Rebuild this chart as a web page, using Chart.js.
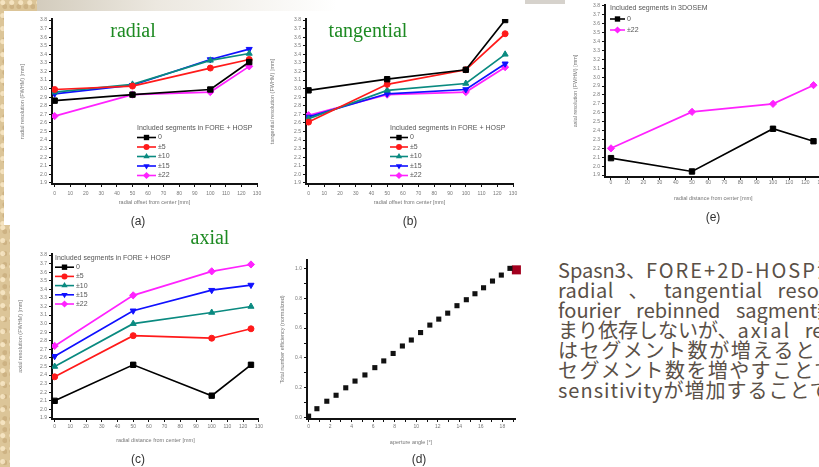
<!DOCTYPE html>
<html>
<head>
<meta charset="utf-8">
<script src="https://cdn.jsdelivr.net/npm/chart.js@4.4.0/dist/chart.umd.min.js"></script>
<style>
html, body { margin: 0; padding: 0; }
body { width: 819px; height: 467px; overflow: hidden; position: relative; background: #fff; font-family: "Liberation Sans", Arial, sans-serif; }
canvas { position: absolute; }
.beige { position: absolute; background-color: #dcc598;
  background-image: radial-gradient(circle at 30% 20%, rgba(255,240,210,.7) 0 2px, transparent 3px),
                    radial-gradient(circle at 70% 60%, rgba(190,160,110,.5) 0 2px, transparent 3px);
  background-size: 9px 13px, 7px 11px; }
.topbar { position: absolute; left: 37px; top: 0; width: 300px; height: 11px; background: linear-gradient(to right, #d3ccbd, #ece8e0 40%, #fff); }
.green { position: absolute; font-family: "Liberation Serif", "Times New Roman", serif; font-size: 20px; color: #1d8a22; transform: translate(-50%, -50%); white-space: nowrap; }
.sub { position: absolute; font-size: 12px; color: #333; transform: translate(-50%, -50%); }
.para { position: absolute; left: 558px; top: 260px; font-family: "Noto Sans CJK JP", "Noto Sans", sans-serif; font-size: 20px; line-height: 20px; color: #5a5047; }
.para div { white-space: nowrap; height: 20px; }
.wide { letter-spacing: 2px; }
</style>
</head>
<body>
<div class="beige" style="left:0;top:0;width:4px;height:225px"></div>
<div class="beige" style="left:0;top:0;width:37px;height:11px"></div>
<div class="beige" style="left:0;top:225px;width:10px;height:242px"></div>
<div class="topbar"></div>
<div style="position:absolute;left:525px;top:0;width:40px;height:4px;background:#d6d2cc"></div>

<canvas id="chartA" width="270" height="215" style="left:0;top:0"></canvas>
<canvas id="chartB" width="260" height="215" style="left:265px;top:0"></canvas>
<canvas id="chartC" width="265" height="242" style="left:0;top:225px"></canvas>
<canvas id="chartD" width="260" height="242" style="left:265px;top:225px"></canvas>
<canvas id="chartE" width="305" height="225" style="left:525px;top:0"></canvas>

<div class="green" style="left:133px;top:30px">radial</div>
<div class="green" style="left:368px;top:30px">tangential</div>
<div class="green" style="left:210px;top:237px">axial</div>

<div class="sub" style="left:138px;top:221px">(a)</div>
<div class="sub" style="left:410px;top:221px">(b)</div>
<div class="sub" style="left:138px;top:459px">(c)</div>
<div class="sub" style="left:419px;top:459px">(d)</div>
<div class="sub" style="left:713px;top:217px">(e)</div>

<div class="para">
  <div>Spasn3、<span class="wide">FORE+2D-HOSP</span>法</div>
  <div style="word-spacing:10px;letter-spacing:0.4px">radial 、 tangential resolution</div>
  <div style="word-spacing:11px">fourier rebinned sagment数</div>
  <div style="word-spacing:9px">まり依存しないが、<span class="wide">axial</span> resolution</div>
  <div style="letter-spacing:1.6px">はセグメント数が増えると</div>
  <div style="letter-spacing:1.4px">セグメント数を増やすことで</div>
  <div style="letter-spacing:1px">sensitivityが増加することで</div>
</div>

<script>
// 横軸: 中心からの距離 [mm]
const offsets = [0, 50, 100, 125];
const segLabels = ['0', '±5', '±10', '±15', '±22'];

// (a) radial resolution
const radial0 = [2.86, 2.93, 2.99, 3.31];
const radial5 = [2.99, 3.03, 3.24, 3.34];
const radial10 = [2.96, 3.05, 3.33, 3.41];
const radial15 = [2.94, 3.04, 3.34, 3.46];
const radial22 = [2.68, 2.93, 2.96, 3.26];

// (b) tangential resolution
const tang0 = [2.98, 3.11, 3.22, 3.80];
const tang5 = [2.61, 3.05, 3.22, 3.64];
const tang10 = [2.65, 2.98, 3.06, 3.40];
const tang15 = [2.67, 2.94, 2.99, 3.29];
const tang22 = [2.69, 2.93, 2.96, 3.25];

// (c) axial resolution
const axial0 = [2.10, 2.52, 2.16, 2.52];
const axial5 = [2.38, 2.86, 2.83, 2.94];
const axial10 = [2.50, 3.00, 3.13, 3.20];
const axial15 = [2.62, 3.15, 3.39, 3.45];
const axial22 = [2.74, 3.33, 3.61, 3.69];

// (d) total number efficiency vs aperture angle
const apertureAngle = [0, 0.77, 1.69, 2.55, 3.45, 4.31, 5.23, 6.15, 6.98, 7.85, 8.71, 9.54, 10.4, 11.26, 12.09, 12.92, 13.78, 14.65, 15.45, 16.25, 17.08, 17.9, 18.7];
const efficiency = [0.01, 0.06, 0.11, 0.15, 0.20, 0.245, 0.286, 0.335, 0.38, 0.43, 0.48, 0.52, 0.57, 0.62, 0.66, 0.70, 0.75, 0.79, 0.83, 0.87, 0.915, 0.955, 1.0];
const markedAngle = [19.3];
const markedEff = [0.99];

// (e) 3DOSEM axial resolution
const osemLabels = ['0', '±22'];
const osem0 = [2.09, 1.94, 2.42, 2.28];
const osem22 = [2.20, 2.61, 2.70, 2.91];

// 目盛り
const resTicks = [1.9, 2.0, 2.1, 2.2, 2.3, 2.4, 2.5, 2.6, 2.7, 2.8, 2.9, 3.0, 3.1, 3.2, 3.3, 3.4, 3.5, 3.6, 3.7, 3.8];
const offsetTicks = [0, 10, 20, 30, 40, 50, 60, 70, 80, 90, 100, 110, 120, 130];
const effTicks = [0, 0.1, 0.2, 0.3, 0.4, 0.5, 0.6, 0.7, 0.8, 0.9, 1.0];
const angleTicks = [0, 1, 2, 3, 4, 5, 6, 7, 8, 9, 10, 11, 12, 13, 14, 15, 16, 17, 18, 19];

const FONT = '"Liberation Sans", Arial, sans-serif';

// 系列のスタイル (Origin のデフォルト順)
const estilos = [
  { color: '#000000', pointStyle: 'rect', pointRadius: 3.8, rotation: 0 },
  { color: '#ff1a1a', pointStyle: 'circle', pointRadius: 3, rotation: 0 },
  { color: '#0a8a80', pointStyle: 'triangle', pointRadius: 3.5, rotation: 0 },
  { color: '#1010ff', pointStyle: 'triangle', pointRadius: 3.5, rotation: 180 },
  { color: '#ff22ff', pointStyle: 'rectRot', pointRadius: 3.6, rotation: 0 }
];

function toPoints(xs, ys) {
  return xs.map((x, i) => ({ x: x, y: ys[i] }));
}

function serie(label, ys, st) {
  return {
    label: label,
    data: toPoints(offsets, ys),
    showLine: true,
    borderColor: st.color,
    backgroundColor: st.color,
    pointBackgroundColor: st.color,
    pointBorderColor: st.color,
    borderWidth: 1.7,
    pointStyle: st.pointStyle,
    pointRadius: st.pointRadius,
    pointRotation: st.rotation,
    pointBorderWidth: 1
  };
}

function drawMarker(ctx, style, r, rot, x, y) {
  ctx.save();
  ctx.translate(x, y);
  ctx.rotate(rot * Math.PI / 180);
  ctx.beginPath();
  if (style === 'circle') {
    ctx.arc(0, 0, r, 0, Math.PI * 2);
  } else if (style === 'rect') {
    const s = r / Math.SQRT2;
    ctx.rect(-s, -s, 2 * s, 2 * s);
  } else if (style === 'rectRot') {
    ctx.moveTo(0, -r); ctx.lineTo(r, 0); ctx.lineTo(0, r); ctx.lineTo(-r, 0); ctx.closePath();
  } else {
    const h = r * 1.5;
    ctx.moveTo(0, -h * 2 / 3); ctx.lineTo(r * 0.9, h / 3); ctx.lineTo(-r * 0.9, h / 3); ctx.closePath();
  }
  ctx.fill();
  ctx.restore();
}

// legenda desenhada dentro do gráfico
const legendaInterna = {
  id: 'legendaInterna',
  afterDatasetsDraw(chart, args, opts) {
    if (!opts || !opts.heading) return;
    const ctx = chart.ctx;
    ctx.save();
    ctx.font = '7px ' + FONT;
    ctx.textBaseline = 'middle';
    ctx.fillStyle = '#555';
    ctx.fillText(opts.heading, opts.x, opts.y);
    chart.data.datasets.forEach((ds, i) => {
      const y = opts.y + opts.gap * (i + 1);
      ctx.strokeStyle = ds.borderColor;
      ctx.lineWidth = 1.6;
      ctx.beginPath();
      ctx.moveTo(opts.x, y);
      ctx.lineTo(opts.x + opts.len, y);
      ctx.stroke();
      ctx.fillStyle = ds.pointBackgroundColor;
      drawMarker(ctx, ds.pointStyle, ds.pointRadius, ds.pointRotation, opts.x + opts.len / 2, y);
      ctx.fillStyle = '#555';
      ctx.fillText(ds.label, opts.x + opts.len + 2, y);
    });
    ctx.restore();
  }
};

function eixo(ticksArr, min, max, fmt, titulo, tamanho, horizontal, padTicks) {
  return {
    type: 'linear',
    min: min,
    max: max,
    afterBuildTicks: s => { s.ticks = ticksArr.map(v => ({ value: v })); },
    afterFit: s => { if (horizontal) { s.height = tamanho; } else { s.width = tamanho; } },
    ticks: { font: { size: 5, family: FONT }, color: '#777', padding: padTicks, autoSkip: false, maxRotation: 0, callback: fmt },
    grid: { drawOnChartArea: false, drawTicks: true, tickLength: 3, tickColor: '#111', tickWidth: 1 },
    border: { display: true, color: '#111', width: 2 },
    title: { display: true, text: titulo, font: { size: 5.5, family: FONT }, color: '#777', padding: 0 }
  };
}

const fmt1 = v => v.toFixed(1);
const fmtInt = v => String(v);
const fmtEven1 = v => (Math.round(v * 10) % 2 === 0 ? v.toFixed(1) : '');
const fmtEven = v => (Math.round(v) % 2 === 0 ? String(v) : '');

function criarGrafico(id, datasets, padding, x, y, legenda) {
  return new Chart(document.getElementById(id), {
    type: 'scatter',
    data: { datasets: datasets },
    options: {
      responsive: false,
      animation: false,
      layout: { padding: padding },
      plugins: { legend: { display: false }, tooltip: { enabled: false }, legendaInterna: legenda || {} },
      scales: { x: x, y: y }
    },
    plugins: [legendaInterna]
  });
}

// (a)
criarGrafico('chartA',
  [serie(segLabels[0], radial0, estilos[0]), serie(segLabels[1], radial5, estilos[1]), serie(segLabels[2], radial10, estilos[2]),
   serie(segLabels[3], radial15, estilos[3]), serie(segLabels[4], radial22, estilos[4])],
  { left: 19, right: 13, top: 19, bottom: 9.7 },
  eixo(offsetTicks, -1.7, 130, fmtInt, 'radial offset from center [mm]', 21.3, true, 4),
  eixo(resTicks, 1.888, 3.812, fmt1, 'radial resolution (FWHM) [mm]', 33, false, 2),
  { heading: 'Included segments in FORE + HOSP', x: 137, y: 128, gap: 9.5, len: 19 });

// (b)
criarGrafico('chartB',
  [serie(segLabels[0], tang0, estilos[0]), serie(segLabels[1], tang5, estilos[1]), serie(segLabels[2], tang10, estilos[2]),
   serie(segLabels[3], tang15, estilos[3]), serie(segLabels[4], tang22, estilos[4])],
  { left: 4, right: 12, top: 19, bottom: 9.7 },
  eixo(offsetTicks, -1.6, 130, fmtInt, 'radial offset from center [mm]', 21.3, true, 4),
  eixo(resTicks, 1.888, 3.812, fmt1, 'tangential resolution (FWHM) [mm]', 37, false, 2),
  { heading: 'Included segments in FORE + HOSP', x: 390 - 265, y: 128, gap: 9.5, len: 18 });

// (c)
criarGrafico('chartC',
  [serie(segLabels[0], axial0, estilos[0]), serie(segLabels[1], axial5, estilos[1]), serie(segLabels[2], axial10, estilos[2]),
   serie(segLabels[3], axial15, estilos[3]), serie(segLabels[4], axial22, estilos[4])],
  { left: 17, right: 5, top: 29, bottom: 23.7 },
  eixo(offsetTicks, -1.7, 130, fmtInt, 'radial distance from center [mm]', 24.3, true, 2),
  eixo(resTicks, 1.888, 3.812, fmt1, 'axial resolution (FWHM) [mm]', 35, false, 2),
  { heading: 'Included segments in FORE + HOSP', x: 55, y: 258 - 225, gap: 9.2, len: 19 });

// (d)
criarGrafico('chartD',
  [{
    label: 'efficiency',
    data: toPoints(apertureAngle, efficiency),
    backgroundColor: '#111', pointBackgroundColor: '#111', borderColor: '#111',
    pointStyle: 'rect', pointRadius: 3.6, pointBorderWidth: 0
  }, {
    label: 'marked',
    data: toPoints(markedAngle, markedEff),
    backgroundColor: '#a3001e', pointBackgroundColor: '#a3001e', borderColor: '#a3001e',
    pointStyle: 'rect', pointRadius: 6.4, pointBorderWidth: 0, clip: false
  }],
  { left: 14, right: 10, top: 35, bottom: 21.7 },
  eixo(angleTicks, -0.15, 19.17, fmtEven, 'aperture angle [°]', 26.3, true, 2),
  eixo(effTicks, -0.009, 1.056, fmtEven1, 'Total number efficiency (normalized)', 28, false, 2),
  null);

// (e)
const estiloOsem = [estilos[0], estilos[4]];
criarGrafico('chartE',
  [serie(osemLabels[0], osem0, estiloOsem[0]), serie(osemLabels[1], osem22, estiloOsem[1])],
  { left: 47, right: 8.4, top: 5, bottom: 23.7 },
  eixo(offsetTicks, -3.7, 130, fmtInt, 'radial distance from center [mm]', 24.3, true, 0),
  eixo(resTicks, 1.878, 3.811, fmt1, 'axial resolution (FWHM) [mm]', 33, false, 2),
  { heading: 'Included segments in 3DOSEM', x: 610 - 525, y: 8, gap: 11, len: 15 });
</script>
</body>
</html>
